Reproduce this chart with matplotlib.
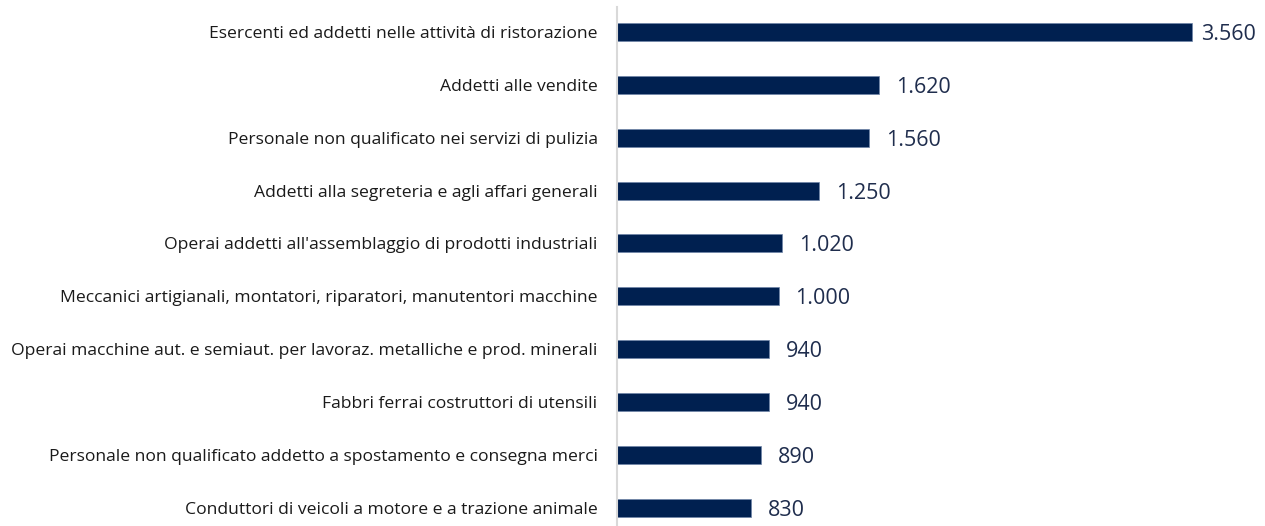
import matplotlib
matplotlib.use("Agg")
import matplotlib.pyplot as plt

categories = [
    "Esercenti ed addetti nelle attività di ristorazione",
    "Addetti alle vendite",
    "Personale non qualificato nei servizi di pulizia",
    "Addetti alla segreteria e agli affari generali",
    "Operai addetti all'assemblaggio di prodotti industriali",
    "Meccanici artigianali, montatori, riparatori, manutentori macchine",
    "Operai macchine aut. e semiaut. per lavoraz. metalliche e prod. minerali",
    "Fabbri ferrai costruttori di utensili",
    "Personale non qualificato addetto a spostamento e consegna merci",
    "Conduttori di veicoli a motore e a trazione animale",
]
values = [3560, 1620, 1560, 1250, 1020, 1000, 940, 940, 890, 830]
value_labels = ["3.560", "1.620", "1.560", "1.250", "1.020", "1.000", "940", "940", "890", "830"]

plt.rcParams['font.family'] = ['Open Sans', 'DejaVu Sans']

fig = plt.figure(figsize=(12.65, 5.26), dpi=100)
ax = fig.add_axes([617/1265, 0, 1 - 617/1265, 1 - 7/526])

y = list(range(len(categories)))
ax.barh(y, values, height=0.34, color="#002050", edgecolor="#6f84a8", linewidth=0.5)
ax.set_xlim(0, 4012)
ax.set_ylim(9.34, -0.47)

fig.canvas.draw()
renderer = fig.canvas.get_renderer()
inv = ax.transData.inverted()
xmax_px = fig.bbox.width - 9
for yi, v, lab in zip(y, values, value_labels):
    t = ax.text(v + 105, yi, lab, va="center_baseline", ha="left", fontsize=15.5, color="#1f2d4d")
    bb = t.get_window_extent(renderer)
    if bb.x1 > xmax_px:
        x0_data = inv.transform((xmax_px - bb.width, 0))[0]
        t.set_x(max(x0_data, v + 50))

ax.set_yticks(y)
ax.set_yticklabels(categories, fontsize=12.6, color="#1a1a1a")
ax.tick_params(axis="y", length=0, pad=14)
ax.set_xticks([])
for s in ["top", "right", "bottom"]:
    ax.spines[s].set_visible(False)
ax.spines["left"].set_color("#d9d9d9")
ax.spines["left"].set_linewidth(1.5)

fig.savefig("out.png", dpi=100)
